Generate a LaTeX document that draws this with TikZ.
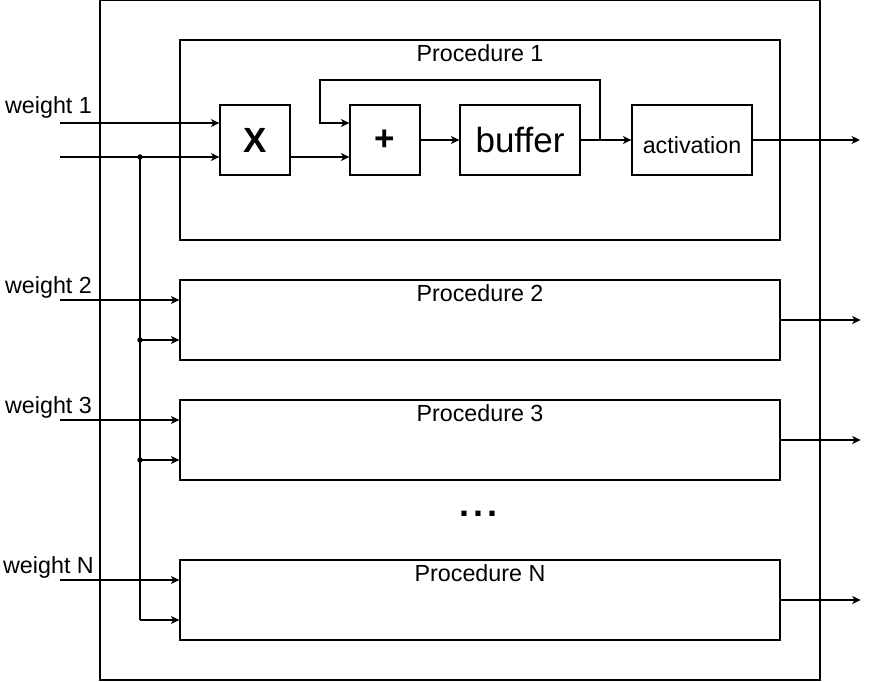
\documentclass[tikz,border=0pt]{standalone}
\usepackage{fontspec}
\setmainfont{Liberation Sans}
\usetikzlibrary{arrows.meta}

\begin{document}
\begin{tikzpicture}[x=1pt, y=-1pt, line width=1.3pt,
  >={Stealth[length=8.5pt, width=8pt, inset=2.5pt]},
  txt/.style={font=\fontsize{23.3}{28}\selectfont},
  big/.style={font=\fontsize{35}{40}\selectfont},
  bigbold/.style={font=\fontsize{35}{40}\selectfont\bfseries},
  blk/.style={draw, rectangle, inner sep=0pt, minimum height=70pt},
  proc/.style={draw, rectangle, inner sep=0pt, minimum width=600pt, minimum height=80pt},
  junc/.style={circle, fill, inner sep=0pt, minimum size=5.5pt}]
  \useasboundingbox (0,0) rectangle (870,681);
  \draw (100,0.5) rectangle (820,680);

  \node[proc, minimum height=200pt] (p1) at (480,140) {};
  \node[proc] (p2) at (480,320) {};
  \node[proc] (p3) at (480,440) {};
  \node[proc] (pN) at (480,600) {};
  \foreach \p/\t in {p1/1, p2/2, p3/3, pN/N}
    \node[txt, anchor=base] at ([yshift=-22pt]\p.north) {Procedure \t};

  \node[blk, bigbold, minimum width=70pt] (mul) at (255,140) {X};
  \node[blk, bigbold, minimum width=70pt] (add) at (385,140) {+};
  \node[blk, big, minimum width=120pt] (buf) at (520,140) {buffer};
  \node[blk, txt, minimum width=120pt, text height=26pt, text depth=0pt] (act) at (692,140) {activation};

  \node[font=\fontsize{36}{40}\selectfont\bfseries] (more) at (478,514) {.\hspace{4pt}.\hspace{4pt}.};

  % inputs
  \coordinate (w1) at (60,123);
  \coordinate (in) at (60,157);
  \coordinate (w2) at (60,300);
  \coordinate (w3) at (60,420);
  \coordinate (wN) at (60,580);
  \coordinate (j1) at (140,157);
  \coordinate (j2) at (140,340);
  \coordinate (j3) at (140,460);
  \coordinate (jN) at (140,620);

  \node[txt, anchor=base] at (48.5,113) {weight 1};
  \node[txt, anchor=base] at (48.5,293) {weight 2};
  \node[txt, anchor=base] at (48.5,413) {weight 3};
  \node[txt, anchor=base] at (48.5,573) {weight N};

  \draw[->] (w1) -- (w1 -| mul.west);
  \draw[->] (in) -- (in -| mul.west);
  \draw[->] (w2) -- (w2 -| p2.west);
  \draw[->] (w3) -- (w3 -| p3.west);
  \draw[->] (wN) -- (wN -| pN.west);
  \draw (j1) -- (jN);
  \draw[->] (j2) -- (j2 -| p2.west);
  \draw[->] (j3) -- (j3 -| p3.west);
  \draw[->] (jN) -- (jN -| pN.west);
  \foreach \j in {j1, j2, j3}
    \node[junc] at (\j) {};

  % procedure 1
  \coordinate (fb) at (600,140);
  \draw[->] (mul.east |- in) -- (in -| add.west);
  \draw[->] (add) -- (buf);
  \draw[->] (buf) -- (act);
  \draw[->] (fb) |- (320,80) |- (w1 -| add.west);

  % outputs
  \draw[->] (act.east) -- (860,140);
  \foreach \p in {p2, p3, pN}
    \draw[->] (\p.east) -- ++(80,0);
\end{tikzpicture}
\end{document}
